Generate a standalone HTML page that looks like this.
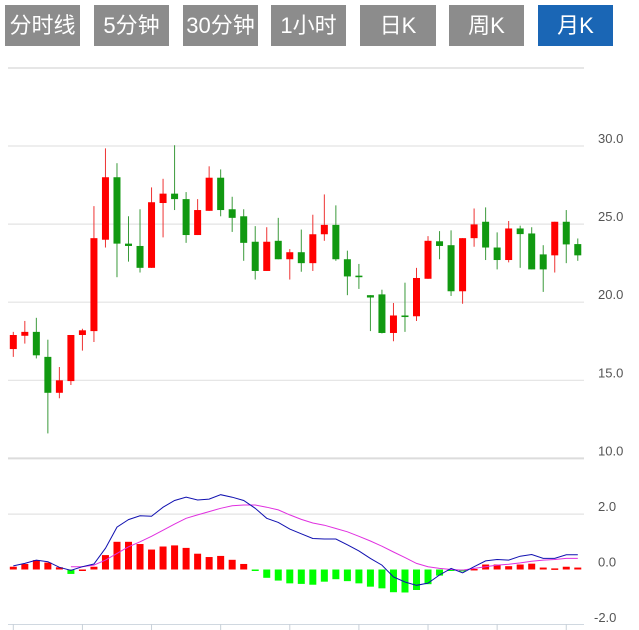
<!DOCTYPE html>
<html><head><meta charset="utf-8"><style>
body{margin:0;background:#fff;width:639px;height:630px;overflow:hidden;font-family:"Liberation Sans","Noto Sans CJK SC",sans-serif}
.btn{position:absolute;top:5px;height:41px;background:#8c8c8c;color:#fff;font-size:22px;line-height:41px;text-align:center;cursor:pointer}
.btn.on{background:#1a66b5}
svg{position:absolute;left:0;top:0}
</style></head><body>
<div class="btn" style="left:5px;width:75px">分时线</div>
<div class="btn" style="left:94px;width:75px">5分钟</div>
<div class="btn" style="left:183px;width:75px">30分钟</div>
<div class="btn" style="left:271px;width:75px">1小时</div>
<div class="btn" style="left:360px;width:76px">日K</div>
<div class="btn" style="left:449px;width:75px">周K</div>
<div class="btn on" style="left:538px;width:75px">月K</div>
<svg id="chart" width="639" height="630"></svg>
<script>
const opens=[17.0,17.85,18.1,16.5,14.2,14.95,17.9,18.15,24.0,28.0,23.75,23.6,22.2,26.35,26.95,26.6,24.3,25.85,27.97,25.95,25.5,23.87,22.0,23.93,22.75,23.2,22.5,24.35,24.95,22.75,21.7,20.45,20.5,18.03,19.15,19.1,21.5,23.9,23.65,20.7,24.1,25.15,23.5,22.7,24.72,24.4,23.06,23.0,25.15,23.72];
const closes=[17.9,18.1,16.6,14.2,15.0,17.9,18.2,24.1,28.0,23.75,23.6,22.2,26.4,26.95,26.6,24.3,25.9,27.97,25.9,25.4,23.8,22.0,23.87,22.75,23.2,22.5,24.35,24.95,22.75,21.65,21.6,20.3,18.03,19.15,19.05,21.55,23.93,23.6,20.7,24.1,24.98,23.5,22.7,24.72,24.36,22.1,22.1,25.15,23.7,23.0];
const highs=[18.1,18.8,19.0,17.6,15.85,17.9,18.3,26.15,29.85,28.9,25.5,25.95,27.35,27.9,30.05,27.05,26.6,28.7,28.5,26.75,25.95,24.87,24.8,25.4,23.4,24.65,25.6,26.9,26.2,23.3,22.45,20.45,20.8,19.95,21.25,22.2,24.23,24.55,24.6,24.1,26.0,26.07,24.47,25.2,24.9,24.8,23.65,25.15,25.9,24.08];
const lows=[16.5,17.35,16.4,11.6,13.85,14.7,16.9,17.45,23.5,21.6,22.6,21.9,22.2,24.15,25.9,23.8,24.3,25.85,25.5,24.5,22.65,21.45,22.0,22.75,21.45,21.95,22.0,23.93,22.65,20.45,20.85,18.15,18.0,17.5,18.1,18.8,21.5,22.75,20.4,19.9,23.55,22.7,22.1,22.55,22.2,22.1,20.66,21.9,22.5,22.65];
const hist=[0.1,0.2,0.34,0.25,0.08,-0.16,0.0,0.1,0.52,1.0,1.0,0.92,0.72,0.83,0.87,0.78,0.57,0.45,0.49,0.35,0.2,-0.05,-0.3,-0.4,-0.5,-0.52,-0.55,-0.44,-0.35,-0.42,-0.5,-0.62,-0.68,-0.82,-0.83,-0.74,-0.53,-0.22,-0.03,-0.07,0.02,0.18,0.18,0.12,0.18,0.21,0.07,0.04,0.1,0.07];
const dif=[0.13,0.22,0.34,0.28,0.08,-0.03,0.1,0.2,0.77,1.53,1.8,1.94,1.92,2.25,2.49,2.61,2.51,2.54,2.7,2.61,2.49,2.21,1.85,1.7,1.46,1.29,1.12,1.1,1.1,0.89,0.67,0.4,0.16,-0.27,-0.45,-0.57,-0.49,-0.2,0.04,-0.12,0.1,0.31,0.36,0.34,0.48,0.54,0.4,0.4,0.53,0.53];
const dea=[null,null,null,null,null,0.1,0.1,0.16,0.34,0.58,0.82,1.0,1.2,1.42,1.64,1.85,1.97,2.09,2.21,2.3,2.33,2.33,2.25,2.15,1.97,1.81,1.68,1.6,1.48,1.36,1.2,1.03,0.84,0.63,0.43,0.22,0.1,0.04,0.0,-0.02,0.04,0.1,0.16,0.19,0.24,0.3,0.34,0.36,0.4,0.4];
const priceTicks=["30.0","25.0","20.0","15.0","10.0"];
const priceTickVals=[30,25,20,15,10];
const macdTicks=["2.0","0.0","-2.0"];
const macdTickVals=[2,0,-2];

const NS="http://www.w3.org/2000/svg",svg=document.getElementById('chart');
function el(t,a){const e=document.createElementNS(NS,t);for(const k in a)e.setAttribute(k,a[k]);svg.appendChild(e);return e;}
const xs=i=>13.3+i*11.52;
const py=v=>146+(30-v)*15.62;
const my=v=>569.5-v*27.7;
const L=8,R=584;
let g=el('line',{x1:L,x2:R,y1:68,y2:68,stroke:'#e6e6e6','stroke-width':2});

priceTickVals.forEach((v,i)=>{
 const y=py(v);
 const l=el('line',{x1:L,x2:R,y1:y,y2:y,stroke:v==10?'#dcdcdc':'#e3e3e3','stroke-width':v==10?2:1.2});
 
 
 const t=el('text',{x:598,y:y-3,'font-size':13,fill:'#555'});t.textContent=priceTicks[i];
 
 
});
macdTickVals.forEach((v,i)=>{
 const y=my(v);
 if(v==2){const l=el('line',{x1:L,x2:R,y1:y,y2:y,stroke:'#e3e3e3','stroke-width':1.2});
 
 }
 const t=el('text',{x:v<0?594:598,y:(v<0?622:y-3),'font-size':13,fill:'#555'});t.textContent=macdTicks[i];
 
 
});
const ax=el('line',{x1:L,x2:R,y1:624.5,y2:624.5,stroke:'#d0d8e0','stroke-width':1});

for(let i=0;i<50;i+=6){const tk=el('line',{x1:xs(i),x2:xs(i),y1:624,y2:630,stroke:'#c8d0d8'});
 
 }
opens.forEach((o,i)=>{
 const c=closes[i],up=c>=o,col=up?'#f00':'#119911',x=xs(i);
 const w=el('line',{x1:x,x2:x,y1:py(highs[i]),y2:py(lows[i]),stroke:up?'#e33':'#3a9a3a','stroke-width':1});
 
 
 const top=py(Math.max(o,c)),h=Math.max(1.5,Math.abs(py(o)-py(c)));
 const b=el('rect',{x:x-3.5,y:top,width:7,height:h,fill:col});
 
 
});
hist.forEach((v,i)=>{
 const y0=my(0),y1=my(v);
 const r=el('rect',{x:xs(i)-3.5,y:Math.min(y0,y1),width:7,height:Math.max(1.5,Math.abs(y1-y0)),fill:v>=0?'#f00':'#0f0'});
 
 
});
function line(arr,col,name){
 let d='';arr.forEach((v,i)=>{if(v===null)return;d+=(d?'L':'M')+xs(i).toFixed(1)+' '+my(v).toFixed(1);});
 const p=el('path',{d:d,fill:'none',stroke:col,'stroke-width':1});
 
 
}
line(dea,'#e030e0','dea-line');
line(dif,'#1010b0','dif-line');
</script>
</body></html>
